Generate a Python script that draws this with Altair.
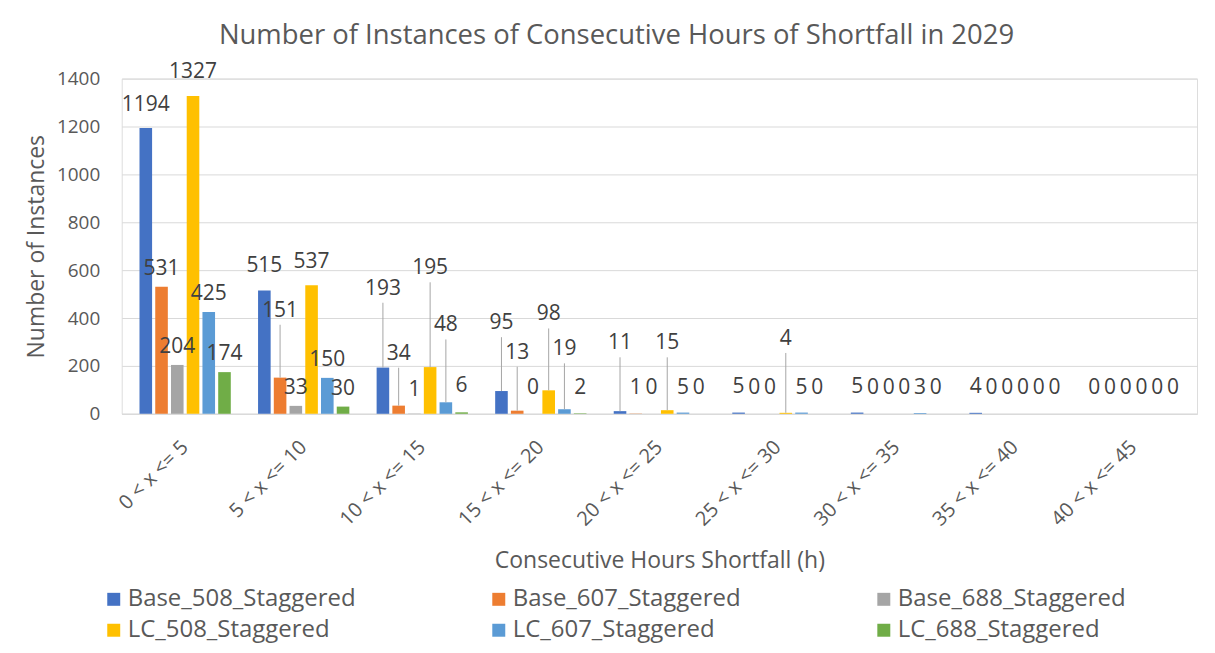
import altair as alt
import pandas as pd

categories = ["0 < x <= 5", "5 < x <= 10", "10 < x <= 15", "15 < x <= 20", "20 < x <= 25",
              "25 < x <= 30", "30 < x <= 35", "35 < x <= 40", "40 < x <= 45"]
series = ["Base_508_Staggered", "Base_607_Staggered", "Base_688_Staggered",
          "LC_508_Staggered", "LC_607_Staggered", "LC_688_Staggered"]
colors = ["#4472C4", "#ED7D31", "#A5A5A5", "#FFC000", "#5B9BD5", "#70AD47"]

base_508 = [1194, 515, 193, 95, 11, 5, 5, 4, 0]
base_607 = [531, 151, 34, 13, 1, 0, 0, 0, 0]
base_688 = [204, 33, 1, 0, 0, 0, 0, 0, 0]
lc_508 = [1327, 537, 195, 98, 15, 4, 0, 0, 0]
lc_607 = [425, 150, 48, 19, 5, 5, 3, 0, 0]
lc_688 = [174, 30, 6, 2, 0, 0, 0, 0, 0]

# extra label lift in pixels (Excel moved some labels up, with leader lines)
lift_base_508 = [5, 7, 61, 50, 50, 8, 8, 8, 8]
lift_base_607 = [0, 49, 34, 40, 8, 8, 8, 8, 8]
lift_base_688 = [0, 0, 6, 8, 8, 8, 8, 8, 8]
lift_lc_508 = [6, 5, 81, 58, 49, 56, 8, 8, 8]
lift_lc_607 = [0, 0, 59, 42, 7, 7, 7, 8, 8]
lift_lc_688 = [0, 0, 8, 7, 8, 8, 8, 8, 8]

values = [base_508, base_607, base_688, lc_508, lc_607, lc_688]
lifts = [lift_base_508, lift_base_607, lift_base_688, lift_lc_508, lift_lc_607, lift_lc_688]
rows = []
for s, vals, lf in zip(series, values, lifts):
    for c, v, l in zip(categories, vals, lf):
        rows.append({"Category": c, "Series": s, "Value": v, "Lift": l})
df = pd.DataFrame(rows)

FONT = "Open Sans"
TXT = "#595959"
PLOT_H = 336
YMAX = 1400
UNITS_PER_PX = YMAX / PLOT_H

x_enc = alt.X("Category:N", sort=categories,
              scale=alt.Scale(paddingInner=0.23, paddingOuter=0.15),
              axis=alt.Axis(title="Consecutive Hours Shortfall (h)", labelAngle=-45,
                            labelAlign="right", labelBaseline="middle",
                            labelFontSize=20, labelColor=TXT, labelFont=FONT,
                            labelPadding=30, ticks=False, domainColor="#d9d9d9",
                            titleFontSize=23, titleFont=FONT, titleColor=TXT,
                            titleFontWeight="normal", titlePadding=20))
xoff = alt.XOffset("Series:N", sort=series, scale=alt.Scale(paddingInner=0.2))
yscale = alt.Scale(domain=[0, YMAX])

bars = alt.Chart(df).mark_bar().encode(
    x=x_enc,
    xOffset=xoff,
    y=alt.Y("Value:Q", scale=yscale,
            axis=alt.Axis(title="Number of Instances", values=list(range(0, 1401, 200)),
                          format="d",
                          labelFontSize=19, labelColor=TXT, labelFont=FONT,
                          labelPadding=22, ticks=False, domain=False,
                          gridColor="#d9d9d9", titleFontSize=23, titleFont=FONT,
                          titleColor=TXT, titleFontWeight="normal", titlePadding=8)),
    color=alt.Color("Series:N", sort=series,
                    scale=alt.Scale(domain=series, range=colors),
                    legend=alt.Legend(title=None, orient="none", legendX=-20, legendY=510,
                                      direction="horizontal",
                                      columns=3, symbolType="square", symbolSize=169,
                                      symbolStrokeWidth=0, labelFontSize=24,
                                      labelFont=FONT, labelColor=TXT, columnPadding=131,
                                      rowPadding=7, labelOffset=2, labelLimit=400)),
)

base = alt.Chart(df).transform_calculate(
    LabelY=f"datum.Value + datum.Lift * {UNITS_PER_PX}",
    LeaderTop=f"datum.Value + (datum.Lift + 4) * {UNITS_PER_PX}",
)

leaders = base.transform_filter("datum.Lift > 20").mark_rule(
    color="#a6a6a6", strokeWidth=1).encode(
    x=alt.X("Category:N", sort=categories),
    xOffset=xoff,
    y=alt.Y("Value:Q", scale=yscale),
    y2="LeaderTop:Q",
)

labels = base.mark_text(baseline="bottom", dy=-8, fontSize=21, font=FONT,
                        color="#404040").encode(
    x=alt.X("Category:N", sort=categories),
    xOffset=xoff,
    y=alt.Y("LabelY:Q", scale=yscale),
    text="Value:Q",
)

chart = (bars + leaders + labels).properties(
    width=1078, height=PLOT_H,
    title=alt.Title("Number of Instances of Consecutive Hours of Shortfall in 2029",
                    fontSize=27.5, font=FONT, color=TXT, fontWeight="normal",
                    anchor="middle", dx=-43, offset=12),
    autosize=alt.AutoSizeParams(type="none"),
    padding={"left": 114, "top": 70, "right": 10, "bottom": 230},
).configure_view(stroke=None).configure(background="white")

chart.save("out.html", embed_options={"renderer": "svg", "actions": False})
